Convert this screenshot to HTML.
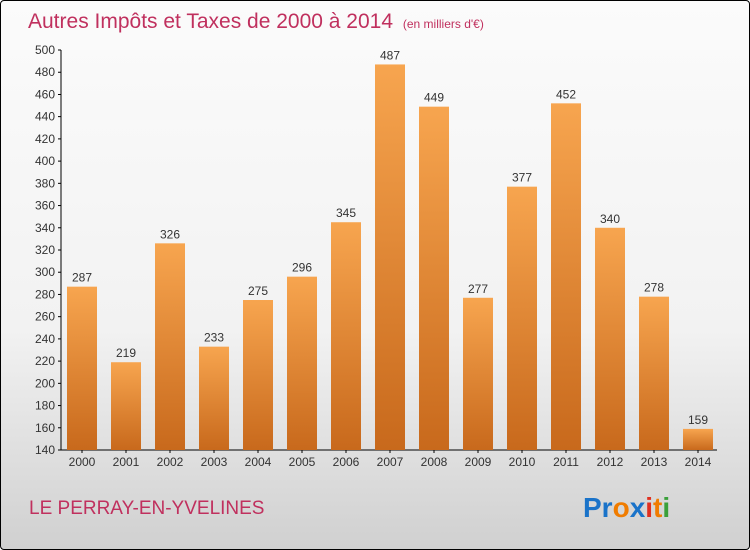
<!DOCTYPE html>
<html><head><meta charset="utf-8"><style>
body{margin:0}
#c{position:relative;width:748px;height:548px;border:1px solid #000;border-radius:4px;overflow:hidden;background:linear-gradient(#fbfbfb 0%,#f2f2f2 60%,#d0d0d0 100%);font-family:"Liberation Sans","DejaVu Sans",sans-serif}
</style></head><body>
<div id="c">
<svg width="748" height="548">
<defs><linearGradient id="g" x1="0" y1="0" x2="0" y2="1"><stop offset="0" stop-color="#f7a54f"/><stop offset="1" stop-color="#c8691c"/></linearGradient></defs>
<text x="27" y="27" font-size="21" fill="#c0305e">Autres Impôts et Taxes de 2000 à 2014 <tspan font-size="12" dx="4">(en milliers d'€)</tspan></text>
<g id="axes"></g><g id="bars"></g>
<text x="28" y="513" font-size="19" fill="#c0305e">LE PERRAY-EN-YVELINES</text>
<text x="582" y="516" font-size="28" font-weight="bold"><tspan fill="#1a73c9">Pr</tspan><tspan fill="#f07c00">o</tspan><tspan fill="#1a73c9">x</tspan><tspan fill="#e03020">i</tspan><tspan fill="#f07c00">t</tspan><tspan fill="#3aa03a">i</tspan></text>
</svg></div>
<script>
const years=["2000","2001","2002","2003","2004","2005","2006","2007","2008","2009","2010","2011","2012","2013","2014"];
const values=[287,219,326,233,275,296,345,487,449,277,377,452,340,278,159];
const yTicks=[140,160,180,200,220,240,260,280,300,320,340,360,380,400,420,440,460,480,500];
const NS="http://www.w3.org/2000/svg";
const y=v=>449-(v-140)*400/360;
const x=i=>81+i*44;
function mk(t,a,p){const e=document.createElementNS(NS,t);for(const k in a)e.setAttribute(k,a[k]);p.appendChild(e);return e;}
const ax=document.getElementById('axes'),bs=document.getElementById('bars');
let l=mk('line',{x1:60,x2:60,y1:y(500),y2:y(140),stroke:'#000'},ax);


l=mk('line',{x1:60,x2:716,y1:y(140),y2:y(140),stroke:'#000'},ax);


yTicks.forEach(v=>{mk('line',{x1:57,x2:60,y1:y(v),y2:y(v),stroke:'#000'},ax);
const t=mk('text',{x:54,y:y(v)+4,'font-size':12,fill:'#333','text-anchor':'end'},ax);t.textContent=v;

});
years.forEach((yr,i)=>{
const r=mk('rect',{x:x(i)-15,y:y(values[i]),width:30,height:y(140)-y(values[i]),fill:'url(#g)'},bs);


const v=mk('text',{x:x(i),y:y(values[i])-5,'font-size':12,fill:'#333','text-anchor':'middle'},bs);v.textContent=values[i];


mk('line',{x1:x(i),x2:x(i),y1:y(140),y2:y(140)+3,stroke:'#000'},ax);
const t=mk('text',{x:x(i),y:y(140)+16,'font-size':12,fill:'#333','text-anchor':'middle'},ax);t.textContent=yr;

});
</script></body></html>
